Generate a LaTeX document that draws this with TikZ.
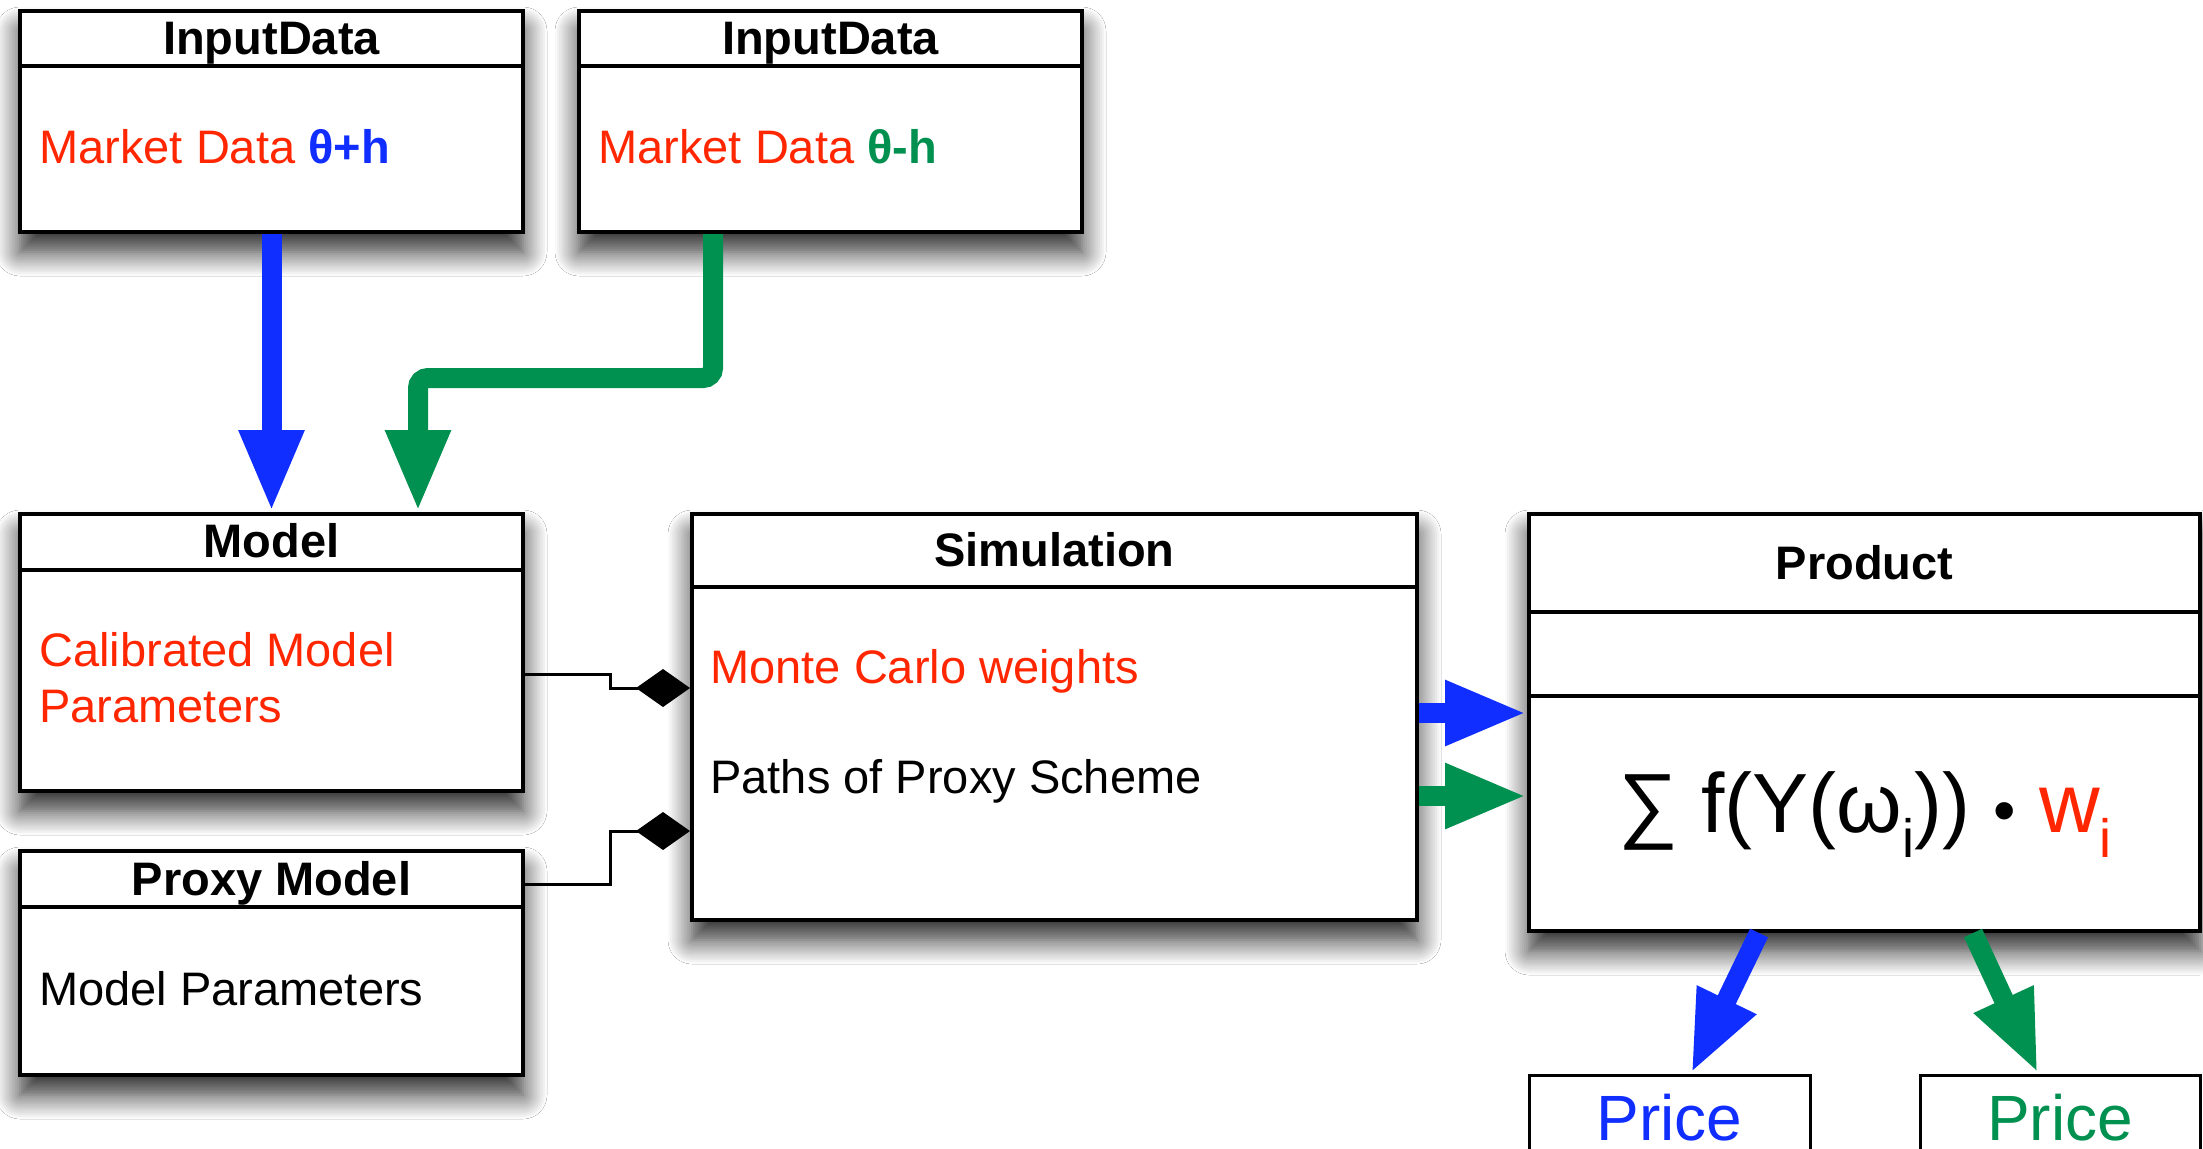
\documentclass[tikz,border=0pt]{standalone}
\usepackage{fontspec}
\setmainfont{Liberation Sans}
\usetikzlibrary{arrows.meta,shadows.blur}
\definecolor{txtred}{RGB}{255,38,0}
\definecolor{flowblue}{RGB}{16,46,255}
\definecolor{flowgreen}{RGB}{0,144,80}
\begin{document}
\begin{tikzpicture}[x=0.5pt,y=-0.5pt,
  umlbox/.style={draw, line width=2pt, fill=white, inner sep=0pt,
    blur shadow={shadow xshift=0pt, shadow yshift=-10pt, shadow blur radius=12pt, shadow blur steps=12, shadow opacity=85}},
  pricebox/.style={draw, line width=1.5pt, fill=white, inner sep=0pt},
  divider/.style={line width=2pt},
  ttl/.style={anchor=base, inner sep=0pt, font=\fontsize{23.5}{28}\selectfont\bfseries},
  txt/.style={anchor=base west, inner sep=0pt, font=\fontsize{23.5}{28}\selectfont},
  flow/.style={line width=10pt, -{Triangle[length=41pt, width=30pt]}},
  link/.style={line width=1.5pt, -{Diamond[length=27pt, width=19pt]}}
]
\clip (0,0) rectangle (2203,1148);
\fill[white] (0,0) rectangle (2203,1148);

% class boxes
\node[umlbox, minimum width=251.5pt, minimum height=110.5pt] (in1) at (271.5,121.5) {};
\node[umlbox, minimum width=251.5pt, minimum height=110.5pt] (in2) at (830.5,121.5) {};
\node[umlbox, minimum width=251.5pt, minimum height=138.5pt] (model) at (271.5,652.5) {};
\node[umlbox, minimum width=251.5pt, minimum height=112pt] (proxy) at (271.5,963) {};
\node[umlbox, minimum width=362.5pt, minimum height=203pt] (sim) at (1054.5,717) {};
\node[umlbox, minimum width=335.5pt, minimum height=208.5pt] (prod) at (1864.5,722.5) {};
\node[pricebox, minimum width=140.5pt, minimum height=75pt] (p1) at (1669.5,1150) {};
\node[pricebox, minimum width=140pt, minimum height=75pt] (p2) at (2060,1150) {};

% compartment lines
\draw[divider] (in1.west |- 0,66) -- (in1.east |- 0,66);
\draw[divider] (in2.west |- 0,66) -- (in2.east |- 0,66);
\draw[divider] (model.west |- 0,570) -- (model.east |- 0,570);
\draw[divider] (proxy.west |- 0,907) -- (proxy.east |- 0,907);
\draw[divider] (sim.west |- 0,587) -- (sim.east |- 0,587);
\draw[divider] (prod.west |- 0,612) -- (prod.east |- 0,612);
\draw[divider] (prod.west |- 0,696) -- (prod.east |- 0,696);

% titles
\node[ttl] (t1) at (271.5,54) {InputData};
\node[ttl] (t2) at (830.5,54) {InputData};
\node[ttl] (t3) at (271.5,557) {Model};
\node[ttl] (t4) at (271.5,895) {Proxy Model};
\node[ttl] (t5) at (1054.5,566) {Simulation};
\node[ttl] (t6) at (1864.5,579) {Product};

% attributes
\node[txt, text=txtred] (a1) at (39,163) {Market Data \textcolor{flowblue}{\bfseries θ+h}};
\node[txt, text=txtred] (a2) at (598,163) {Market Data \textcolor{flowgreen}{\bfseries θ-h}};
\node[txt, text=txtred] (a3) at (39,666) {Calibrated Model};
\node[txt, text=txtred] (a4) at (39,722) {Parameters};
\node[txt] (a5) at (39,1005) {Model Parameters};
\node[txt, text=txtred] (a6) at (710,683) {Monte Carlo weights};
\node[txt] (a7) at (710,793) {Paths of Proxy Scheme};
\node[anchor=base, inner sep=0pt, font=\fontsize{42}{48}\selectfont] (f) at (1865,832)
  {∑ f(Y(ω\raisebox{-12.5pt}{\fontsize{27}{30}\selectfont i})) {\fontsize{32}{36}\selectfont •} \textcolor{txtred}{w\raisebox{-12.5pt}{\fontsize{27}{30}\selectfont i}}};
\node[anchor=base, inner sep=0pt, font=\fontsize{32}{36}\selectfont, text=flowblue] (pr1) at (1669.5,1140) {Price};
\node[anchor=base, inner sep=0pt, font=\fontsize{32}{36}\selectfont, text=flowgreen] (pr2) at (2060,1140) {Price};

% data flow
\draw[flow, flowblue] (in1.south) -- (model.north);
\draw[flow, flowgreen, rounded corners=5pt] ([xshift=-58.75pt]in2.south) -- ++(0,144) -| ([xshift=73.25pt]model.north);
\draw[flow, flowblue] (sim.east |- 0,713) -- (prod.west |- 0,713);
\draw[flow, flowgreen] (sim.east |- 0,796) -- (prod.west |- 0,796);
\draw[flow, flowblue] ([xshift=-52.75pt]prod.south) -- ([xshift=10.75pt]p1.north);
\draw[flow, flowgreen] ([xshift=54.25pt]prod.south) -- ([xshift=-11pt]p2.north);

% compositions
\draw[link] (model.east |- 0,674) -- ++(85,0) |- (sim.west |- 0,688);
\draw[link] (proxy.east |- 0,884) -- ++(85,0) |- (sim.west |- 0,831);
\end{tikzpicture}
\end{document}
